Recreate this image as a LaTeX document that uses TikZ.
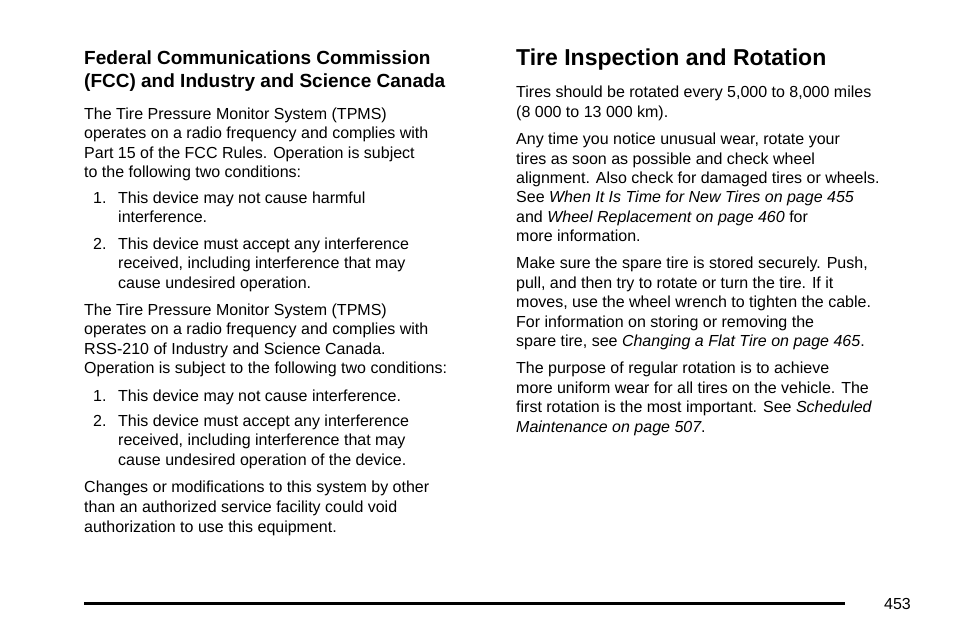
\documentclass[tikz,border=0pt]{standalone}
\usepackage{fontspec}
\setmainfont{Liberation Sans}
\begin{document}
\begin{tikzpicture}[x=1pt,y=-1pt,
 body/.style={anchor=base west,inner sep=0pt,font=\fontsize{16}{19}\selectfont},
 head/.style={anchor=base west,inner sep=0pt,font=\fontsize{19}{23}\selectfont\bfseries},
 title/.style={anchor=base west,inner sep=0pt,font=\fontsize{23}{27}\selectfont\bfseries}]
\useasboundingbox (0,0) rectangle (954,636);
\node[head] (h1) at (84,65) {Federal Communications Commission};
\node[head] (h2) at (84,88) {(FCC) and Industry and Science Canada};
\foreach \y/\t [count=\i] in {
 120/The Tire Pressure Monitor System (TPMS),
 139/operates on a radio frequency and complies with,
 159/Part 15 of the FCC Rules. Operation is subject,
 178/to the following two conditions:,
 316/The Tire Pressure Monitor System (TPMS),
 335/operates on a radio frequency and complies with,
 355/RSS-210 of Industry and Science Canada.,
 374/Operation is subject to the following two conditions:,
 493/Changes or modifications to this system by other,
 512/than an authorized service facility could void,
 532/authorization to use this equipment.}
 \node[body] (a\i) at (84,\y) {\t};
\foreach \y/\t [count=\i] in {
 204/1.,250/2.,402/1.,427/2.}
 \node[body] (n\i) at (93,\y) {\t};
\foreach \y/\t [count=\i] in {
 204/This device may not cause harmful,
 223/interference.,
 250/This device must accept any interference,
 269/{received, including interference that may},
 289/cause undesired operation.,
 402/This device may not cause interference.,
 427/This device must accept any interference,
 446/{received, including interference that may},
 466/cause undesired operation of the device.}
 \node[body] (b\i) at (118,\y) {\t};
\node[title] (t) at (516,66) {Tire Inspection and Rotation};
\foreach \y/\t [count=\i] in {
 98/{Tires should be rotated every 5,000 to 8,000 miles},
 118/(8 000 to 13 000 km).,
 145/{Any time you notice unusual wear, rotate your},
 165/tires as soon as possible and check wheel,
 184/alignment. Also check for damaged tires or wheels.,
 203/See \textit{When It Is Time for New Tires on page 455},
 223/and \textit{Wheel Replacement on page 460} for,
 242/more information.,
 269/{Make sure the spare tire is stored securely. Push,},
 289/{pull, and then try to rotate or turn the tire. If it},
 308/{moves, use the wheel wrench to tighten the cable.},
 328/For information on storing or removing the,
 347/{spare tire, see \textit{Changing a Flat Tire on page 465}.},
 374/The purpose of regular rotation is to achieve,
 394/more uniform wear for all tires on the vehicle. The,
 413/first rotation is the most important. See \textit{Scheduled},
 433/\textit{Maintenance on page 507}.}
 \node[body] (r\i) at (516,\y) {\t};
\coordinate (rl) at (84,603); \coordinate (rr) at (845,603);
\draw[line width=3pt] (rl) -- (rr);
\node[body] (pg) at (884,609) {453};
\end{tikzpicture}
\end{document}
